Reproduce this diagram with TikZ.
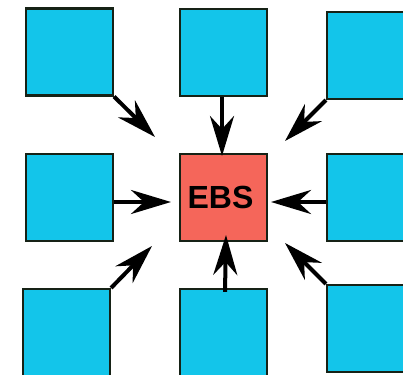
\documentclass[tikz,border=0pt]{standalone}
\usepackage{fontspec}
\setmainfont{Liberation Sans}
\usetikzlibrary{arrows.meta}
\definecolor{boxcyan}{RGB}{19,197,234}
\definecolor{ebsred}{RGB}{245,102,90}
\definecolor{boxline}{RGB}{22,34,22}
\tikzset{
  box/.style={draw=boxline,line width=2.2pt,fill=boxcyan,
    minimum width=87pt,minimum height=87pt,inner sep=0pt},
  feed/.style={draw=black,line width=4pt,
    -{Stealth[length=40pt,width=24pt,inset=13pt]}}
}
\begin{document}
\begin{tikzpicture}[x=1pt,y=-1pt]
	\useasboundingbox (0,0) rectangle (403,374);
%Zentrum
	\draw (223.5,197.5) node (ebs)
	  [box,fill=ebsred,font=\fontsize{32}{32}\selectfont\bfseries]
	  {\hspace*{-6pt}EBS};
%Äußere Kästen
	\draw (69.5,52) node (tl) [box] {};
	\draw (223.5,52.5) node (tc) [box] {};
	\draw (370.5,55.5) node (tr) [box] {};
	\draw (69.5,197.5) node (ml) [box] {};
	\draw (370.5,197.5) node (mr) [box] {};
	\draw (66.5,332.5) node (bl) [box] {};
	\draw (223.5,332.5) node (bc) [box] {};
	\draw (370.5,328.5) node (br) [box] {};
%Pfeilspitzen
	\coordinate (tlTip) at (155,137);
	\coordinate (tcTip) at (222,156);
	\coordinate (trTip) at (285,141);
	\coordinate (mlTip) at (171,202);
	\coordinate (mrTip) at (271,202);
	\coordinate (blTip) at (152,246);
	\coordinate (bcTip) at (226,235);
	\coordinate (brTip) at (285,243);
%Pfeile
	\draw[feed] (tl.south east) -- (tlTip);
	\draw[feed] ([xshift=-1.5pt]tc.south) -- (tcTip);
	\draw[feed] (tr.south west) -- (trTip);
	\draw[feed] ([yshift=-4.5pt]ml.east) -- (mlTip);
	\draw[feed] ([yshift=-4.5pt]mr.west) -- (mrTip);
	\draw[feed] (bl.north east) -- (blTip);
	\draw[feed] ([xshift=1.5pt,yshift=-4pt]bc.north) -- (bcTip);
	\draw[feed] (br.north west) -- (brTip);
\end{tikzpicture}
\end{document}
